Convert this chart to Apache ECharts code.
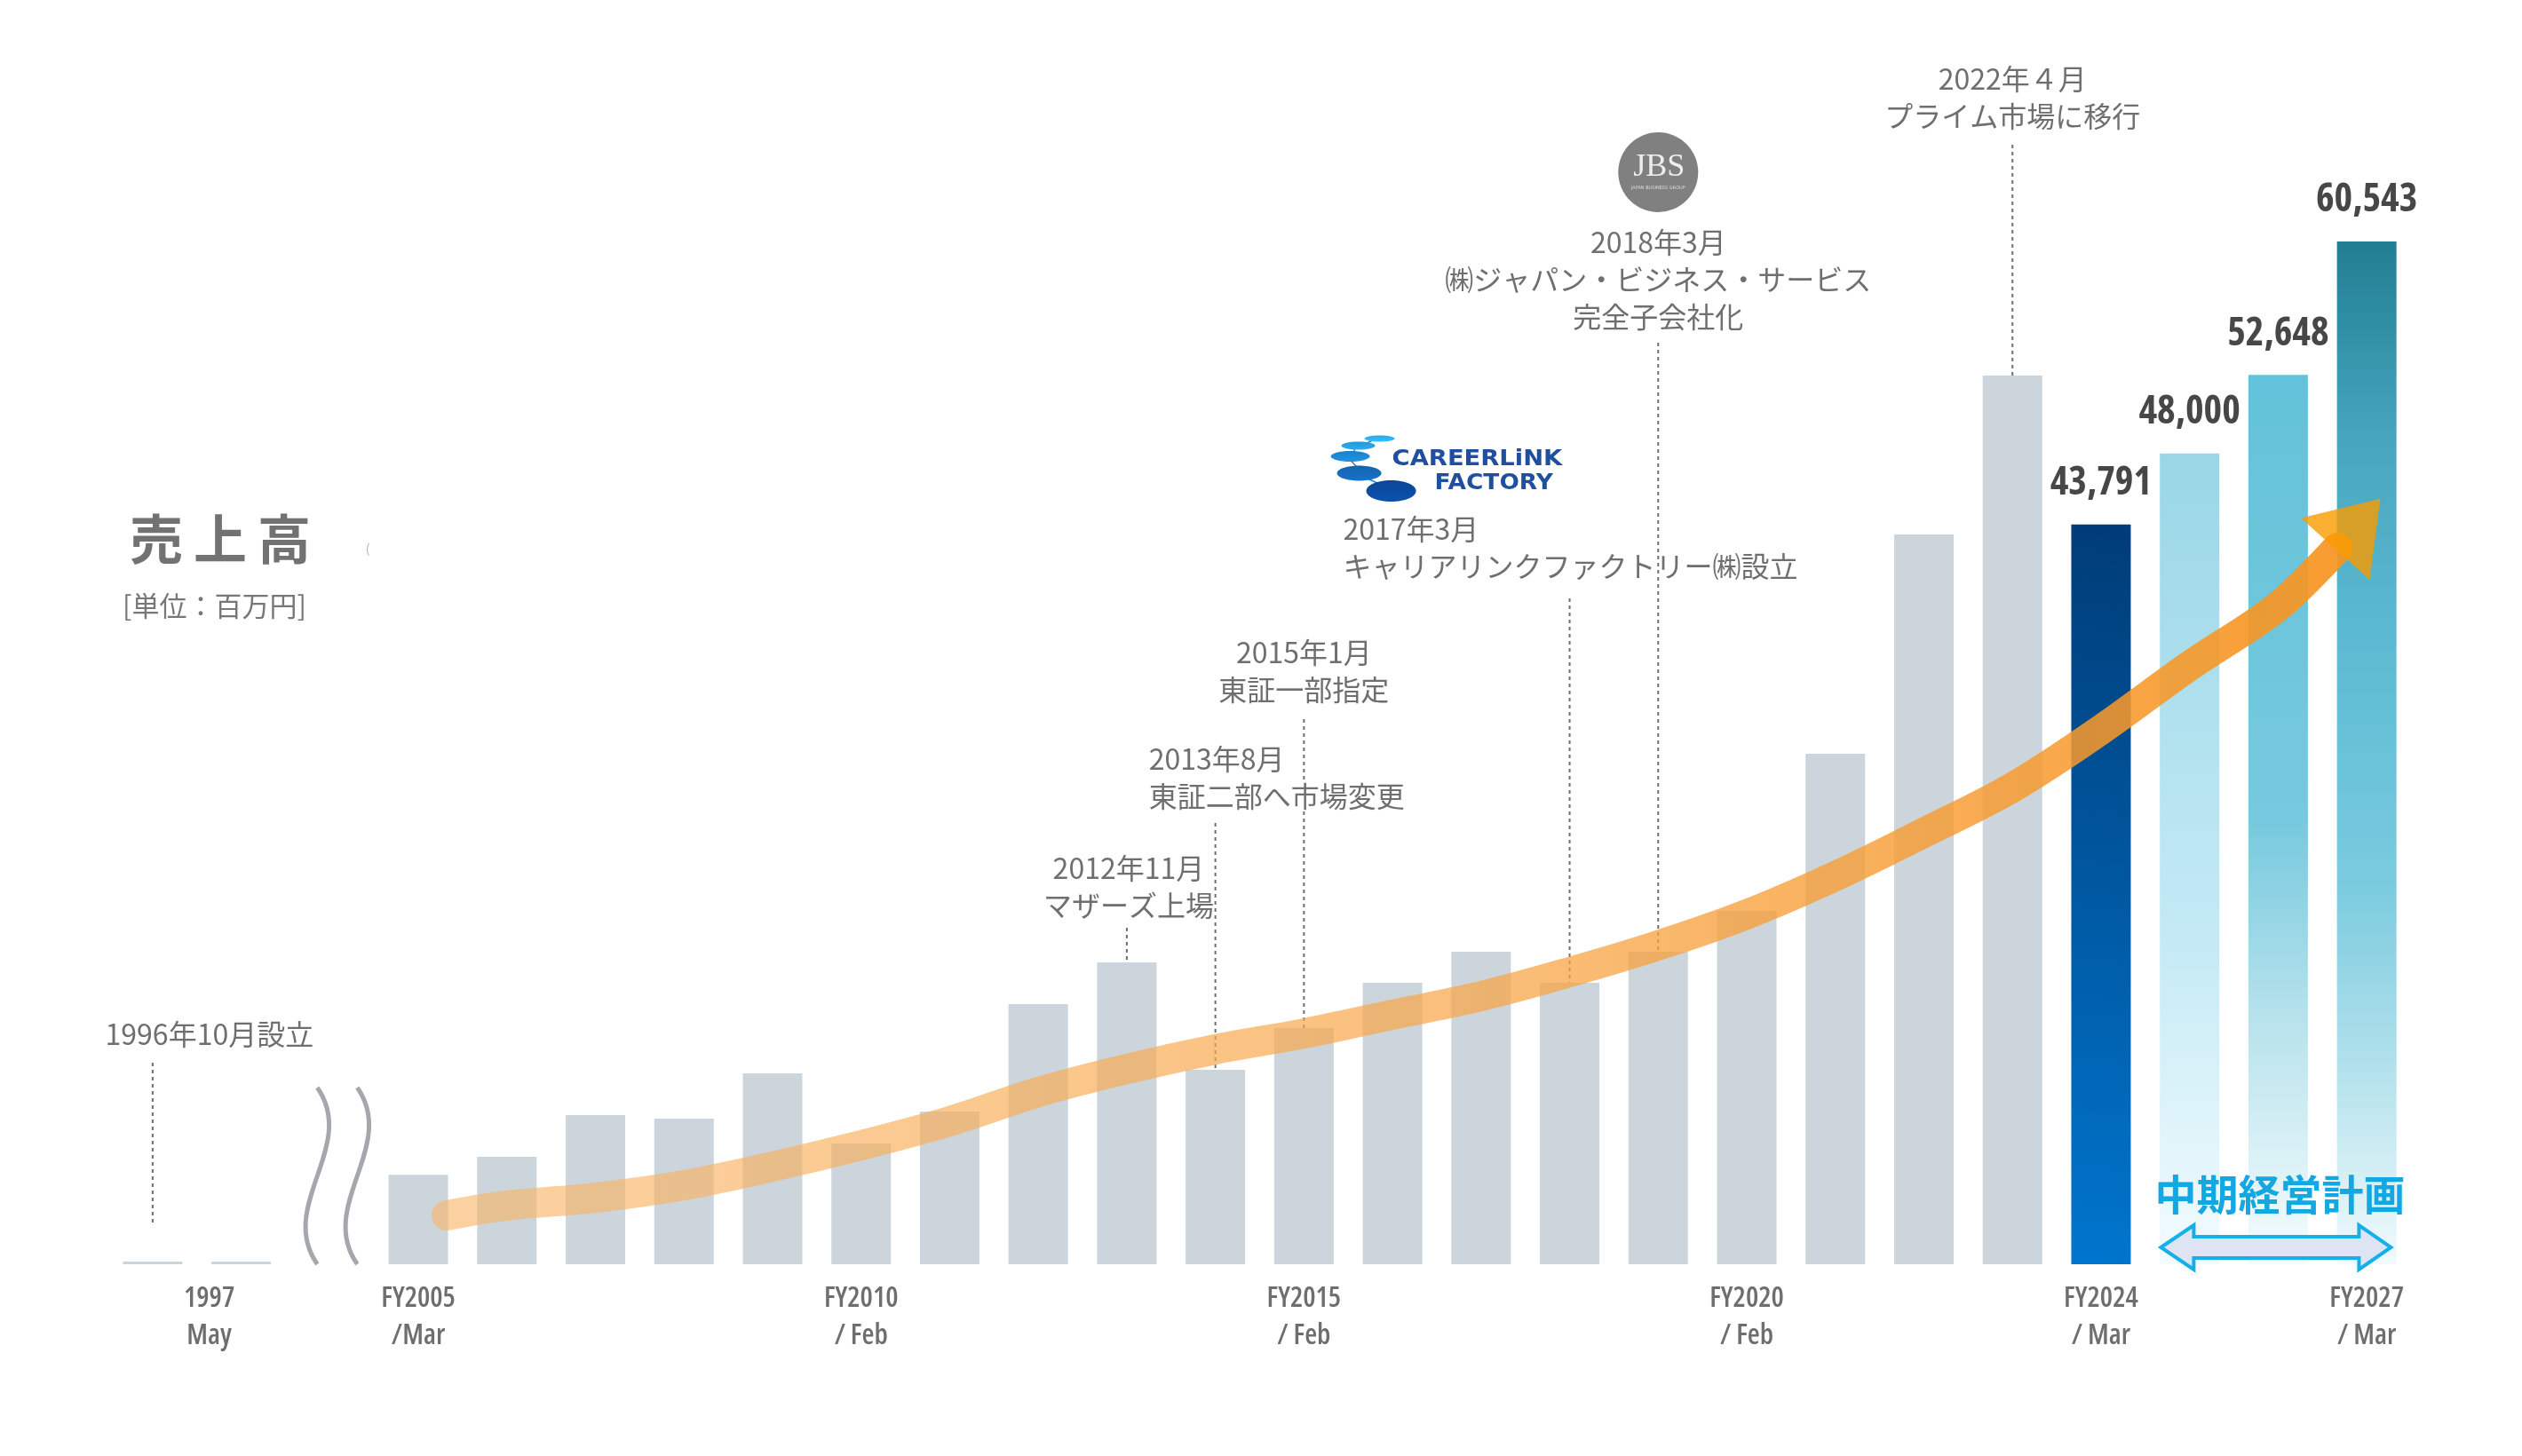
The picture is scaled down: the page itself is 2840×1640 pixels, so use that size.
<!DOCTYPE html>
<html><head><meta charset="utf-8">
<script src="https://cdn.jsdelivr.net/npm/echarts@6/dist/echarts.min.js"></script>
<style>html,body{margin:0;padding:0;background:#fff}#c{width:2840px;height:1640px}</style>
</head><body><div id="c"></div>
<script>
// ---------------- data ----------------
const categories = ['1996','1997','~','FY2005','FY2006','FY2007','FY2008','FY2009','FY2010','FY2011','FY2012','FY2013','FY2014','FY2015','FY2016','FY2017','FY2018','FY2019','FY2020','FY2021','FY2022','FY2023','FY2024','FY2025','FY2026','FY2027'];
// 売上高 (百万円), actual results up to FY2024
const salesActual = [160,160,null,5300,6360,8830,8620,11300,7150,9040,15400,17870,11510,13980,16660,18500,16660,18500,20920,30220,43200,52600,43791];
// 中期経営計画
const salesPlan = [48000,52648,60543];

const tickCats  = ['1997','FY2005','FY2010','FY2015','FY2020','FY2024','FY2027'];
const tickTexts = ['1997\nMay','FY2005\n/Mar','FY2010\n/ Feb','FY2015\n/ Feb','FY2020\n/ Feb','FY2024\n/ Mar','FY2027\n/ Mar'];

// growth arrow (position on category index scale, value)
const trendPos = [3.32,4,5,6,7,8,9,10,11,12,13,14,15,16,17,18,19,20,21,22,23,24,24.67];
const trendVal = [2890,3470,3940,4680,5780,7040,8460,10190,11560,12720,13660,14770,15870,17290,18870,20710,22970,25540,28220,31640,35420,38940,42410];
const arrowHead = [24.90, 43830];

const eventCats  = ['1996','FY2013','FY2014','FY2015','FY2018','FY2019','FY2023'];
const eventTexts = [
  '1996年10月設立',
  '2012年11月\nマザーズ上場',
  '2013年8月\n東証二部へ市場変更',
  '2015年1月\n東証一部指定',
  '2017年3月\nキャリアリンクファクトリー㈱設立',
  '2018年3月\n㈱ジャパン・ビジネス・サービス\n完全子会社化',
  '2022年４月\nプライム市場に移行'
];

// ---------------- style ----------------
const CJK = '"Noto Sans CJK JP","Noto Sans",sans-serif';
const NARROW = '"Open Sans","Roboto",sans-serif';
const G = echarts.graphic.LinearGradient;
const GRAY = '#cbd5db';
const blueGrad = new G(0,1,1,0,[{offset:0,color:'#0075cd'},{offset:1,color:'#003c77'}]);
const planGrads = [
  new G(0,0,0,1,[{offset:0,color:'#99d6e6'},{offset:0.6,color:'#c4eaf5'},{offset:1,color:'#f3fbfe'}]),
  new G(0,0,0,1,[{offset:0,color:'#63c2d9'},{offset:0.5,color:'#76c9de'},{offset:0.72,color:'#b6e2ec'},{offset:1,color:'#f6fcfd'}]),
  new G(0,0,0,1,[{offset:0,color:'#217e93'},{offset:0.2,color:'#48a7bf'},{offset:0.45,color:'#62bfd6'},{offset:0.63,color:'#7bcbdf'},{offset:0.8,color:'#b0e0eb'},{offset:1,color:'#f2fafc'}])
];

const nAct = salesActual.length;
const barData = categories.map((c,i)=>{
  const v = i < nAct ? salesActual[i] : salesPlan[i-nAct];
  let color = GRAY;
  if (c === 'FY2024') color = blueGrad;
  if (i >= nAct) color = planGrads[i-nAct];
  return {value:v, itemStyle:{color}, label:{show: i >= nAct-1}};
});

const labelMap = {};
tickCats.forEach((c,i)=>labelMap[c]=tickTexts[i]);

const chart = echarts.init(document.getElementById('c'));
chart.setOption({
  animation:false,
  backgroundColor:'#ffffff',
  grid:{left:122,right:125,top:92,bottom:216},
  xAxis:[{
    type:'category',
    data:categories.map(c => c==='1997' ? {value:c, textStyle:{padding:[0,72,0,0]}} : c),
    axisLine:{show:false}, axisTick:{show:false},
    axisLabel:{interval:0, margin:18, fontFamily:NARROW, fontWeight:'ultra-condensed 600', fontSize:32, lineHeight:42, color:'#6e6e6e',
      formatter:v=>labelMap[v]||''}
  },{type:'value', min:-0.5, max:25.5, show:false}],
  yAxis:{type:'value', min:0, max:70000, show:false},
  series:[{
    type:'bar', data:barData, barWidth:67, z:2,
    label:{position:'top', distance:24, fontFamily:NARROW, fontWeight:'ultra-condensed 700', fontSize:44, lineHeight:44, color:'#474747',
      formatter:p=>Number(p.value).toLocaleString('en-US')}
  },{
    type:'line', xAxisIndex:1, data:trendPos.map((x,i)=>[x,trendVal[i]]), smooth:0.35, symbol:'none', z:5, silent:true,
    lineStyle:{width:34, cap:'round', join:'round',
      color:new G(0,0,1,0,[{offset:0,color:'rgba(249,182,105,0.62)'},{offset:0.55,color:'rgba(248,165,70,0.72)'},{offset:1,color:'rgba(247,148,32,0.93)'}])}
  },{
    type:'scatter', xAxisIndex:1, data:[arrowHead], symbol:'triangle', symbolSize:[104,76], symbolRotate:-42, z:6, silent:true,
    itemStyle:{color:'#f99b00'}
  }]
});

// ---------------- annotations ----------------
const px = (c,v)=>chart.convertToPixel({xAxisIndex:0,yAxisIndex:0},[c,v]);
const baseY = px('FY2005',0)[1];
const valOf = c => { const i = categories.indexOf(c); return i < nAct ? salesActual[i] : salesPlan[i-nAct]; };
const els = [];
const AFS = 32;
const txt = (x,y,text,o={}) => els.push({type:'text', x, y, z:o.z||10, style:Object.assign({text, fill:'#6f6f6f', fontSize:AFS, fontFamily:CJK, lineHeight:42, align:'center', verticalAlign:'middle'}, o.style||{})});
const dline = (x,y1,y2,z=1) => els.push({type:'line', z, shape:{x1:x,y1,x2:x,y2}, style:{stroke:'#6f6f6f', lineWidth:2, lineDash:[4,4]}});

// layout of event texts: [first-line centre y, align, dx, line top]
const evLayout = [[1165,'center',64,1197],[978,'center',2,1045],[855,'left',-75,927],[735,'center',0,810],[596,'left',-255,674],[273,'center',0,386],[89,'center',0,163]];
eventCats.forEach((c,i)=>{
  const [yc, al, dx, lt] = evLayout[i];
  const x = px(c,0)[0];
  const bottom = c==='1996' ? baseY-46 : px(c, valOf(c))[1];
  dline(x, lt, bottom, c==='FY2015'?1:3);
  const lines = eventTexts[i].split('\n');
  if (c==='FY2014') {
    els.push({type:'text', x:x+dx, y:yc-21, z:10, style:{
      text:'{a|'+lines[0]+'}\n{b|'+lines[1]+'}', align:'left', verticalAlign:'top', fontSize:AFS, fontFamily:CJK, fill:'#6f6f6f', lineHeight:42,
      rich:{a:{fontSize:AFS, fontFamily:CJK, fill:'#6f6f6f', lineHeight:42}, b:{fontSize:AFS, fontFamily:CJK, fill:'#6f6f6f', lineHeight:42, backgroundColor:'#ffffff'}}}});
  } else {
    txt(x+dx, yc-21, eventTexts[i], {style:{align:al, verticalAlign:'top'}});
  }
});

// break marks
const bx = px('~',0)[0];
[-14, 31].forEach(off=>{
  const x0 = bx+off, y0 = baseY-199;
  els.push({type:'bezierCurve', z:3, shape:{x1:x0,y1:y0,cpx1:x0+46,cpy1:y0+66,cpx2:x0-46,cpy2:y0+133,x2:x0,y2:baseY}, style:{stroke:'#a4a8ac', lineWidth:5, fill:null}});
});

// titles
els.push({type:'text', x:146, y:607, z:10, style:{text:'売\u2009上\u2009高', fill:'#727272', fontSize:60, fontWeight:'bold', fontFamily:CJK, align:'left', verticalAlign:'middle'}});
els.push({type:'text', x:138, y:682, z:10, style:{text:'[単位：百万円]', fill:'#777777', fontSize:31, fontFamily:CJK, align:'left', verticalAlign:'middle'}});
els.push({type:'text', x:414, y:618, z:10, style:{text:'(', fill:'#b5b5b5', fontSize:14, fontFamily:CJK, align:'center', verticalAlign:'middle'}});

// JBS logo
const jx = px('FY2019',0)[0], jy = 194;
els.push({type:'circle', z:10, shape:{cx:jx, cy:jy, r:45}, style:{fill:'#808080'}});
els.push({type:'text', x:jx+1, y:jy-5, z:11, style:{text:'JBS', fill:'#eeeeee', fontSize:36, fontFamily:'"Liberation Serif","DejaVu Serif",serif', align:'center', verticalAlign:'middle'}});
els.push({type:'text', x:jx, y:jy+18, z:11, style:{text:'JAPAN BUSINESS GROUP', fill:'#dddddd', fontSize:5, fontFamily:'"DejaVu Sans",sans-serif', align:'center', verticalAlign:'middle'}});

// CareerLink Factory logo
const L = px('FY2018',0)[0] - 255;
const ells = [[41,494,17,3.5,'#2ba8e2'],[17,502,19,4.5,'#2597d8'],[8,514,22,6,'#1d80c8'],[18,533,25,8.5,'#1464b0'],[54,553,28,12,'#0a4797']];
for (let i=0;i<ells.length-1;i++){
  const a=ells[i], b=ells[i+1];
  els.push({type:'line', z:10, shape:{x1:L+a[0]-4,y1:a[1],x2:L+b[0]+4,y2:b[1]}, style:{stroke:'#2a7cc4', lineWidth:1.5}});
}
ells.forEach(e=>els.push({type:'ellipse', z:11, shape:{cx:L+e[0], cy:e[1], rx:e[2], ry:e[3]}, style:{fill:new G(0,0,0,1,[{offset:0,color:e[4]},{offset:1,color:echarts.color.lift(e[4],-0.15)}])}}));
els.push({type:'text', x:L+55, y:518, z:11, scaleX:1.14, style:{text:'CAREERLiNK', fill:'#1f4f9e', fontSize:24, fontWeight:'bold', fontFamily:'"DejaVu Sans",sans-serif', align:'left', verticalAlign:'middle'}});
els.push({type:'text', x:L+103, y:545, z:11, scaleX:1.1, style:{text:'FACTORY', fill:'#1f4f9e', fontSize:24, fontWeight:'bold', fontFamily:'"DejaVu Sans",sans-serif', align:'left', verticalAlign:'middle'}});

// 中期経営計画
const mx = px('FY2026',0)[0];
els.push({type:'text', x:mx+2, y:baseY-79, z:12, style:{text:'中期経営計画', fill:'#14a8e2', fontSize:47, fontWeight:'bold', fontFamily:CJK, align:'center', verticalAlign:'middle'}});
const ay = baseY-19, ax = mx-3;
const pts = [[-129,0],[-92,-25],[-92,-12],[94,-12],[94,-25],[130,0],[94,25],[94,12],[-92,12],[-92,25]].map(p=>[ax+p[0], ay+p[1]]);
els.push({type:'polygon', z:12, shape:{points:pts}, style:{fill:'#dfe4f5', stroke:'#13b0ea', lineWidth:4, lineJoin:'miter'}});

chart.setOption({graphic:{elements:els}});
</script>
</body></html>
